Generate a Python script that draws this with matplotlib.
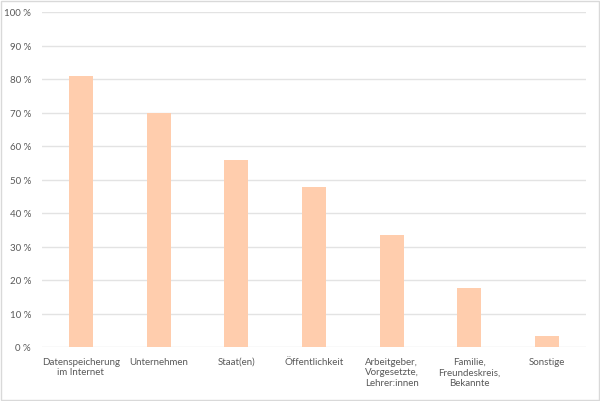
import matplotlib
matplotlib.use("Agg")
import matplotlib.pyplot as plt
from matplotlib.patches import Rectangle

categories = ["Datenspeicherung\nim Internet", "Unternehmen", "Staat(en)", "Öffentlichkeit",
              "Arbeitgeber,\nVorgesetzte,\nLehrer:innen", "Familie,\nFreundeskreis,\nBekannte", "Sonstige"]
values = [81.0, 70.0, 55.8, 47.7, 33.4, 17.5, 3.3]
yticks = [0, 10, 20, 30, 40, 50, 60, 70, 80, 90, 100]
ytick_labels = [f"{v} %" for v in yticks]

plt.rcParams['font.family'] = ['Lato', 'DejaVu Sans']
fig = plt.figure(figsize=(6.0, 4.02), dpi=100)
ax = fig.add_axes([42/600, 1-348/402, 544/600, 335/402])
x = list(range(len(categories)))
ax.bar(x, values, width=0.31, color="#FFCDAD", zorder=3)
ax.set_xlim(-0.5, len(categories)-0.5)
ax.set_ylim(0, 100)
ax.set_yticks(yticks)
ax.set_yticklabels(ytick_labels)
ax.set_xticks(x)
ax.set_xticklabels(categories, linespacing=1.25)
ax.grid(axis='y', color="#E3E3E3", linewidth=1, zorder=0)
for s in ax.spines.values():
    s.set_visible(False)
ax.tick_params(axis='both', length=0, labelsize=7, colors="#595959")
ax.tick_params(axis='y', pad=8)
ax.tick_params(axis='x', pad=7)
fig.patches.append(Rectangle((0.5/600, 1.5/402), 598/600, 399/402, transform=fig.transFigure,
                             fill=False, edgecolor="#D9D9D9", linewidth=1))
fig.savefig("out.png", dpi=100)
